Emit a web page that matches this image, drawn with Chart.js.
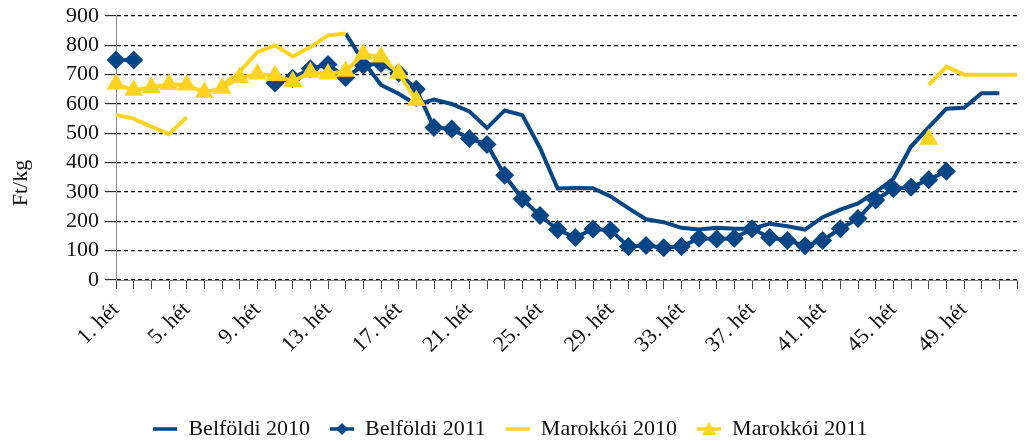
<!DOCTYPE html>
<html>
<head>
<meta charset="utf-8">
<script src="https://cdn.jsdelivr.net/npm/chart.js@4/dist/chart.umd.min.js"></script>
<style>
  html, body { margin: 0; padding: 0; background: #fff; }
  #wrap { width: 1028px; height: 441px; }
</style>
</head>
<body>
<div id="wrap"><canvas id="chart"></canvas></div>
<script>
// weeks of the year
var weeks = ['1. hét','2. hét','3. hét','4. hét','5. hét','6. hét','7. hét','8. hét','9. hét','10. hét',
  '11. hét','12. hét','13. hét','14. hét','15. hét','16. hét','17. hét','18. hét','19. hét','20. hét',
  '21. hét','22. hét','23. hét','24. hét','25. hét','26. hét','27. hét','28. hét','29. hét','30. hét',
  '31. hét','32. hét','33. hét','34. hét','35. hét','36. hét','37. hét','38. hét','39. hét','40. hét',
  '41. hét','42. hét','43. hét','44. hét','45. hét','46. hét','47. hét','48. hét','49. hét','50. hét',
  '51. hét','52. hét'];

// Ft/kg, null = no price that week
var belfoldi2010 = [null,null,null,null,null,null,null,null,null,null,
  null,null,null,840,745,665,635,598,615,600,
  575,518,578,562,450,312,314,313,285,245,
  207,197,178,172,178,175,175,192,183,172,
  214,240,261,300,345,455,520,584,587,637,
  637,null];

var belfoldi2011 = [750,750,null,null,null,null,null,null,null,672,
  688,720,735,690,732,738,706,650,520,515,
  482,462,357,276,220,172,145,174,170,114,
  118,110,114,142,140,142,175,145,135,117,
  135,175,210,273,311,316,342,371,null,null,
  null,null];

var marokkoi2010 = [563,550,523,497,555,null,662,710,777,800,
  762,794,834,840,null,null,null,null,null,null,
  null,null,null,null,null,null,null,null,null,null,
  null,null,null,null,null,null,null,null,null,null,
  null,null,null,null,null,null,665,727,700,700,
  700,700];

var marokkoi2011 = [668,647,656,667,665,640,654,690,702,697,
  677,708,702,712,770,760,705,612,null,null,
  null,null,null,null,null,null,null,null,null,null,
  null,null,null,null,null,null,null,null,null,null,
  null,null,null,null,null,null,480,null,null,null,
  null,null];

var yTicks = [0,100,200,300,400,500,600,700,800,900];

var blue = '#004586';
var yellow = '#FFD320';
var font = 'Liberation Serif';

Chart.defaults.font.family = font;
Chart.defaults.color = '#111';

// small legend icons: line with optional marker in the middle
function legendIcon(color, marker) {
  var c = document.createElement('canvas');
  c.width = 24; c.height = 16;
  var g = c.getContext('2d');
  g.strokeStyle = color;
  g.fillStyle = color;
  g.lineWidth = 3.5;
  g.beginPath(); g.moveTo(0, 8); g.lineTo(24, 8); g.stroke();
  g.beginPath();
  if (marker === 'diamond') {
    g.moveTo(12, 2); g.lineTo(18, 8); g.lineTo(12, 14); g.lineTo(6, 8);
  } else if (marker === 'triangle') {
    g.moveTo(12, 1); g.lineTo(19, 14); g.lineTo(5, 14);
  }
  g.closePath(); g.fill();
  return c;
}
var icons = [legendIcon(blue), legendIcon(blue, 'diamond'), legendIcon(yellow), legendIcon(yellow, 'triangle')];

// y axis title sits a bit below the middle in the original
var yTitle = {
  id: 'yTitle',
  afterDraw: function(chart) {
    var ctx = chart.ctx;
    ctx.save();
    ctx.translate(21, 183);
    ctx.rotate(-Math.PI / 2);
    ctx.font = '22px ' + font;
    ctx.fillStyle = '#111';
    ctx.textAlign = 'center';
    ctx.textBaseline = 'middle';
    ctx.fillText('Ft/kg', 0, 0);
    ctx.restore();
  }
};

new Chart(document.getElementById('chart'), {
  type: 'line',
  data: {
    labels: weeks,
    datasets: [
      {
        label: 'Belföldi 2010',
        data: belfoldi2010,
        borderColor: blue,
        backgroundColor: blue,
        borderWidth: 4,
        pointRadius: 0,
        order: 4
      },
      {
        label: 'Belföldi 2011',
        data: belfoldi2011,
        borderColor: blue,
        backgroundColor: blue,
        borderWidth: 4,
        pointStyle: 'rectRot',
        pointRadius: 9.5,
        pointBorderWidth: 0,
        order: 3
      },
      {
        label: 'Marokkói 2010',
        data: marokkoi2010,
        borderColor: yellow,
        backgroundColor: yellow,
        borderWidth: 4,
        pointRadius: 0,
        order: 2
      },
      {
        label: 'Marokkói 2011',
        data: marokkoi2011,
        borderColor: yellow,
        backgroundColor: yellow,
        borderWidth: 4,
        pointStyle: 'triangle',
        pointRadius: 11,
        pointBorderWidth: 0,
        order: 1
      }
    ]
  },
  options: {
    responsive: true,
    maintainAspectRatio: false,
    animation: false,
    spanGaps: false,
    layout: { padding: { top: 16, right: 7, left: 0, bottom: -9 } },
    plugins: {
      tooltip: { enabled: false },
      legend: {
        position: 'bottom',
        labels: {
          usePointStyle: true,
          pointStyleWidth: 24,
          boxHeight: 16,
          padding: 20,
          font: { size: 22 },
          color: '#111',
          sort: function(a, b) { return a.datasetIndex - b.datasetIndex; },
          generateLabels: function(chart) {
            var items = Chart.defaults.plugins.legend.labels.generateLabels(chart);
            items.forEach(function(it) { it.pointStyle = icons[it.datasetIndex]; });
            return items;
          }
        }
      }
    },
    scales: {
      x: {
        offset: false,
        afterFit: function(scale) {
          scale.height = 118;
          scale.paddingLeft = 0;
          scale.paddingRight = 0;
        },
        grid: {
          drawOnChartArea: false,
          drawTicks: true,
          tickLength: 9,
          color: '#444'
        },
        border: { color: '#888', width: 1 },
        ticks: {
          autoSkip: false,
          minRotation: 45,
          maxRotation: 45,
          padding: 8,
          font: { size: 22 },
          color: '#111',
          callback: function(v, i) { return i % 4 === 0 ? weeks[i] : ''; }
        }
      },
      y: {
        min: 0,
        max: 900,
        afterFit: function(scale) {
          scale.width = 116;
          scale.paddingTop = 0;
          scale.paddingBottom = 0;
        },
        afterBuildTicks: function(scale) {
          scale.ticks = yTicks.map(function(v) { return { value: v }; });
        },
        grid: {
          color: '#000',
          lineWidth: 1.2,
          drawOnChartArea: true,
          tickLength: 11,
          tickColor: '#333'
        },
        border: { color: '#888', width: 1, dash: [4, 3] },
        ticks: {
          autoSkip: false,
          padding: 6,
          font: { size: 22 },
          color: '#111'
        }
      }
    }
  },
  plugins: [yTitle]
});
</script>
</body>
</html>
